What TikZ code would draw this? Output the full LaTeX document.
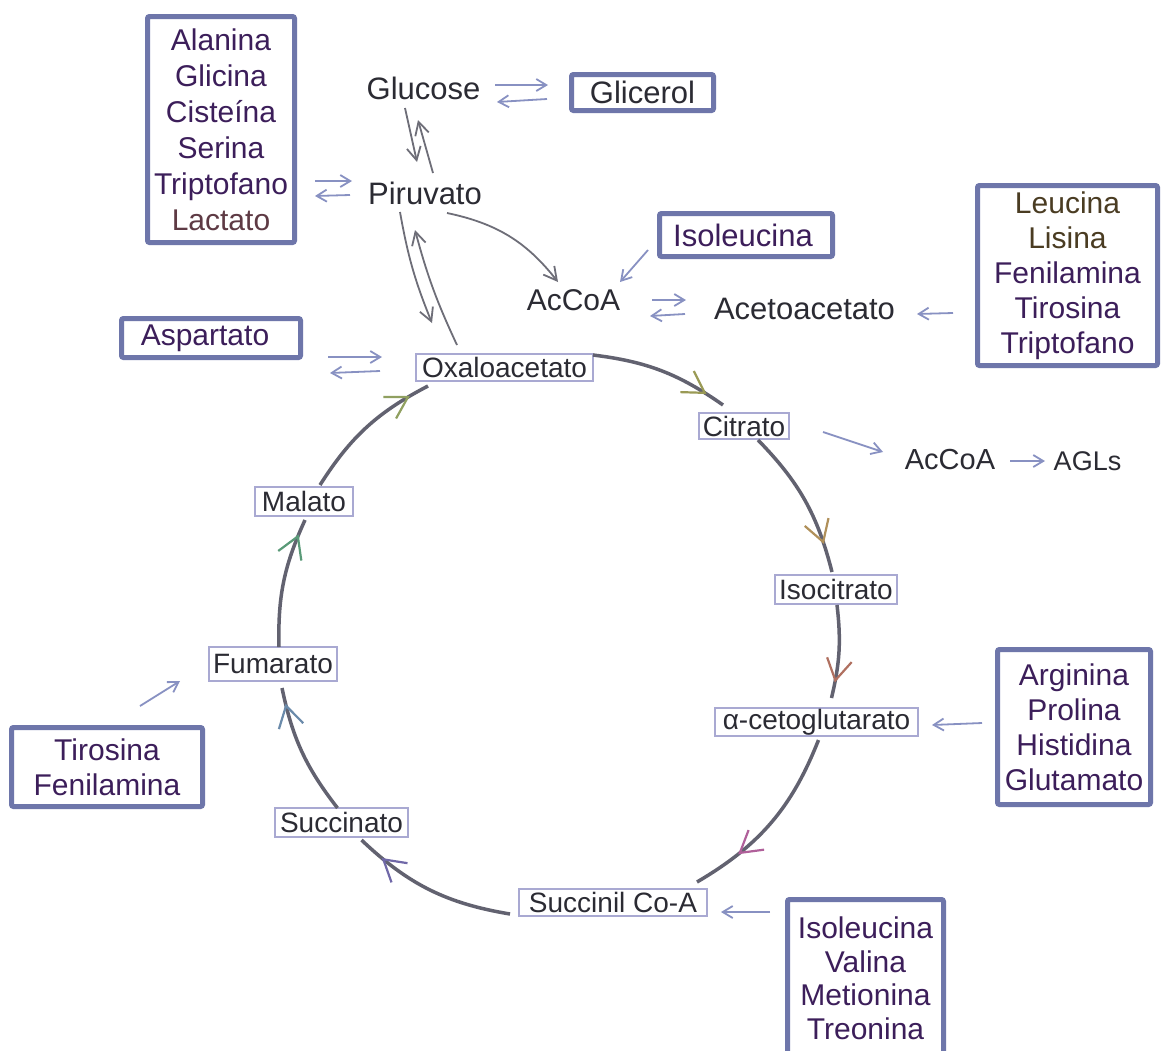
\documentclass[tikz,border=0pt]{standalone}
\usepackage{fontspec}
\setmainfont{Liberation Sans}
\usetikzlibrary{arrows.meta,calc,decorations.markings}

\definecolor{boxblue}{HTML}{6E76AA}
\definecolor{amino}{HTML}{3C1E5A}
\definecolor{lact}{HTML}{5E3A44}
\definecolor{leuc}{HTML}{4A3C22}
\definecolor{maintext}{HTML}{2B2B33}
\definecolor{bluearr}{HTML}{8891C2}
\definecolor{grayarr}{HTML}{6E6E78}
\definecolor{cycline}{HTML}{626270}
\definecolor{thinbox}{HTML}{A9A9D2}
\definecolor{tipA}{HTML}{9A9A55}
\definecolor{tipB}{HTML}{B0905A}
\definecolor{tipC}{HTML}{B07060}
\definecolor{tipD}{HTML}{B0609A}
\definecolor{tipE}{HTML}{7068A8}
\definecolor{tipF}{HTML}{6A8AAA}
\definecolor{tipG}{HTML}{5A9A78}
\definecolor{tipH}{HTML}{90A060}

\tikzset{
  lbl/.style={font=\fontsize{31}{36}\selectfont, text=maintext, inner sep=0pt, outer sep=0pt},
  cyc/.style={draw=thinbox, line width=1.2pt, font=\fontsize{28}{32}\selectfont, text=maintext, inner sep=0pt, outer sep=0pt},
  abox/.style={draw=boxblue, line width=5pt, rounded corners=2pt, align=center, text=amino, inner sep=0pt, outer sep=0pt, font=\fontsize{30}{36}\selectfont},
  barr/.style={draw=bluearr, line width=1.8pt, -{Straight Barb[length=10pt,width=12pt]}},
  garr/.style={draw=grayarr, line width=1.8pt, -{Straight Barb[length=13pt,width=14pt]}},
  cycarc/.style 2 args={draw=cycline, line width=3.5pt, postaction={decorate},
    decoration={markings, mark=at position #2 with {\arrow{Straight Barb[length=21pt,width=25pt,color=#1,line width=2.2pt]}}}},
}

\begin{document}
\begin{tikzpicture}[x=1pt,y=-1pt]
\useasboundingbox (0,0) rectangle (1162,1050);
\fill[white] (0,0) rectangle (1162,1050);
\clip (0,0) rectangle (1162,1050);

% boxes with amino acids
\node[abox, minimum width=147pt, minimum height=226pt] (aa) at (221,129.5)
  {Alanina\\Glicina\\Cisteína\\Serina\\Triptofano\\\textcolor{lact}{Lactato}};
\node[abox, minimum width=142pt, minimum height=36pt, text=maintext, font=\fontsize{31}{36}\selectfont] (glic) at (642.5,92.5) {Glicerol};
\node[abox, minimum width=173pt, minimum height=43pt, font=\fontsize{31}{36}\selectfont] (iso1) at (746,235) {Isoleucina\hspace{6pt}};
\node[abox, minimum width=180pt, minimum height=180pt, font=\fontsize{30}{35}\selectfont] (leu) at (1067.5,275.5)
  {\textcolor{leuc}{Leucina}\\\textcolor{leuc}{Lisina}\\Fenilamina\\Tirosina\\Triptofano};
\node[abox, minimum width=179pt, minimum height=39pt, font=\fontsize{30}{36}\selectfont] (asp) at (211,338) {Aspartato\hspace{12pt}};
\node[abox, minimum width=153pt, minimum height=155pt, font=\fontsize{30}{35}\selectfont] (arg) at (1074,727)
  {Arginina\\Prolina\\Histidina\\Glutamato};
\node[abox, minimum width=156pt, minimum height=158pt, font=\fontsize{30}{33.5}\selectfont] (iso2) at (865.5,978.5)
  {Isoleucina\\Valina\\Metionina\\Treonina};
\node[abox, minimum width=191pt, minimum height=79pt, font=\fontsize{30}{35}\selectfont] (tir) at (107,767)
  {Tirosina\\Fenilamina};

% plain labels
\node[lbl] (glu) at (423.5,88) {Glucose};
\node[lbl] (pir) at (425,193) {Piruvato};
\node[lbl, font=\fontsize{30}{36}\selectfont] (acc1) at (573.5,300) {AcCoA};
\node[lbl] (aceto) at (804.5,309) {Acetoacetato};
\node[lbl, font=\fontsize{29}{34}\selectfont] (acc2) at (950,460) {AcCoA};
\node[lbl, font=\fontsize{27}{32}\selectfont] (agl) at (1087.5,461) {AGLs};

% cycle boxes
\node[cyc, minimum width=177pt, minimum height=27pt] (oxa) at (504.5,367.5) {Oxaloacetato};
\node[cyc, minimum width=90pt, minimum height=26pt] (cit) at (744,426) {Citrato};
\node[cyc, minimum width=122pt, minimum height=29pt] (iso) at (836,589.5) {Isocitrato};
\node[cyc, minimum width=203pt, minimum height=28pt] (akg) at (816.5,722) {α-cetoglutarato};
\node[cyc, minimum width=188pt, minimum height=27pt] (suc) at (613,902.5) {Succinil Co-A};
\node[cyc, minimum width=133pt, minimum height=29pt] (sna) at (341.5,822.5) {Succinato};
\node[cyc, minimum width=128pt, minimum height=34pt] (fum) at (273,664) {Fumarato};
\node[cyc, minimum width=98pt, minimum height=29pt] (mal) at (304,501.5) {Malato};

% cycle arcs
\draw[cycarc={tipA}{0.86}] ($(oxa.north east)+(0,1)$) to[bend left=14] ($(cit.north west)+(24,-8)$);
\draw[cycarc={tipB}{0.81}] ($(cit.south east)+(-31,1)$) to[bend left=15] ($(iso.north)+(-4,-3)$);
\draw[cycarc={tipC}{0.83}] ($(iso.south)+(1,1)$) to[bend left=10] ($(akg.north)+(15,-10)$);
\draw[cycarc={tipD}{0.74}] ($(akg.south)+(2,4)$) to[bend left=19] ($(suc.north east)+(-10,-7)$);
\draw[cycarc={tipE}{0.84}] ($(suc.south west)+(-9,-2)$) to[bend left=17] ($(sna.south)+(20,3)$);
\draw[cycarc={tipF}{0.88}] ($(sna.north)+(-4,0)$) to[bend left=13] ($(fum.south)+(9,7)$);
\draw[cycarc={tipG}{0.88}] ($(fum.north)+(6,0)$) to[bend left=13] ($(mal.south)+(1,4)$);
\draw[cycarc={tipH}{0.86}] ($(mal.north)+(16,-2)$) to[bend left=15] ($(oxa.south west)+(12,5)$);

% arrows
\draw[barr] ($(glu)+(71.5,-3)$) -- ($(glic)+(-94.5,-7.5)$);
\draw[barr] ($(glic)+(-95.5,6.5)$) -- ($(glu)+(73.5,14)$);
\draw[garr] ($(glu)+(-18.5,20)$) -- ($(pir)+(-8,-31)$);
\draw[garr] ($(pir)+(8,-20)$) -- ($(glu)+(-5.5,32)$);
\draw[barr] ($(aa)+(94,51.5)$) -- ($(pir)+(-73,-12)$);
\draw[barr] ($(pir)+(-75,2)$) -- ($(aa)+(94,66.5)$);
\draw[garr] ($(pir)+(-25,19)$) to[bend right=6] ($(oxa)+(-72.5,-44.5)$);
\draw[garr] ($(oxa)+(-47.5,-22.5)$) to[bend left=5] ($(pir)+(-10,37)$);
\draw[garr] ($(pir)+(22,20)$) to[bend left=20] ($(acc1)+(-15.5,-18)$);
\draw[barr] ($(iso1)+(-98,15)$) -- ($(acc1)+(46.5,-18)$);
\draw[barr] ($(acc1)+(78.5,0)$) -- ($(aceto)+(-118.5,-9)$);
\draw[barr] ($(aceto)+(-119.5,5)$) -- ($(acc1)+(76.5,16)$);
\draw[barr] ($(leu)+(-114.5,37.5)$) -- ($(aceto)+(112.5,5)$);
\draw[barr] ($(cit)+(79,6)$) -- ($(acc2)+(-67,-8)$);
\draw[barr] ($(acc2)+(60,1)$) -- ($(agl)+(-42.5,0)$);
\draw[barr] ($(asp)+(117,19)$) -- ($(oxa)+(-122.5,-10.5)$);
\draw[barr] ($(oxa)+(-124.5,3.5)$) -- ($(asp)+(119,35)$);
\draw[barr] ($(arg)+(-92,-4)$) -- ($(akg)+(115.5,3)$);
\draw[barr] ($(iso2)+(-95.5,-66.5)$) -- ($(suc)+(108,9.5)$);
\draw[barr] ($(tir)+(33,-61)$) -- ($(fum)+(-93,17)$);
\end{tikzpicture}
\end{document}
